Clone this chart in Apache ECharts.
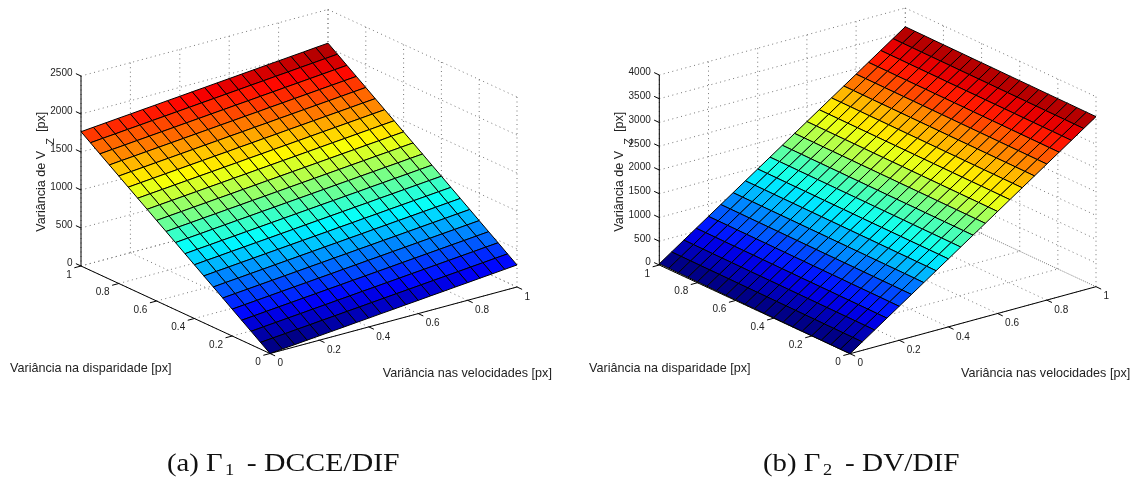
<!DOCTYPE html>
<html><head><meta charset="utf-8">
<style>html,body{margin:0;padding:0;background:#fff}#c{width:1134px;height:482px}</style>
<script src="https://cdn.jsdelivr.net/npm/echarts@6/dist/echarts.min.js"></script>
</head><body><div id="c"></div>
<script>
// ---- data ----
const velocityGrid = [0,0.05,0.1,0.15,0.2,0.25,0.3,0.35,0.4,0.45,0.5,0.55,0.6,0.65,0.7,0.75,0.8,0.85,0.9,0.95,1];
const disparityGrid = [0,0.05,0.1,0.15,0.2,0.25,0.3,0.35,0.4,0.45,0.5,0.55,0.6,0.65,0.7,0.75,0.8,0.85,0.9,0.95,1];
const unitTicks = [0,0.2,0.4,0.6,0.8,1];
const zTicksA = [0,500,1000,1500,2000,2500];
const zTicksB = [0,500,1000,1500,2000,2500,3000,3500,4000];
// rows: disparity index, columns: velocity index
const varianceA = [
[0,15,29,44,58,73,87,102,116,131,145,160,174,189,203,218,232,247,261,276,290],
[88,103,117,132,146,161,175,190,204,219,233,248,262,277,291,306,320,335,349,364,378],
[177,192,206,221,235,250,264,279,293,308,322,337,351,366,380,395,409,424,438,453,467],
[265,280,294,309,323,338,352,367,381,396,410,425,439,454,468,483,497,512,526,541,555],
[353,368,382,397,411,426,440,455,469,484,498,513,527,542,556,571,585,600,614,629,643],
[442,457,471,486,500,515,529,544,558,573,587,602,616,631,645,660,674,689,703,718,732],
[530,545,559,574,588,603,617,632,646,661,675,690,704,719,733,748,762,777,791,806,820],
[618,633,647,662,676,691,705,720,734,749,763,778,792,807,821,836,850,865,879,894,908],
[707,722,736,751,765,780,794,809,823,838,852,867,881,896,910,925,939,954,968,983,997],
[795,810,824,839,853,868,882,897,911,926,940,955,969,984,998,1013,1027,1042,1056,1071,1085],
[884,899,913,928,942,957,971,986,1000,1015,1029,1044,1058,1073,1087,1102,1116,1131,1145,1160,1174],
[972,987,1001,1016,1030,1045,1059,1074,1088,1103,1117,1132,1146,1161,1175,1190,1204,1219,1233,1248,1262],
[1060,1075,1089,1104,1118,1133,1147,1162,1176,1191,1205,1220,1234,1249,1263,1278,1292,1307,1321,1336,1350],
[1149,1164,1178,1193,1207,1222,1236,1251,1265,1280,1294,1309,1323,1338,1352,1367,1381,1396,1410,1425,1439],
[1237,1252,1266,1281,1295,1310,1324,1339,1353,1368,1382,1397,1411,1426,1440,1455,1469,1484,1498,1513,1527],
[1325,1340,1354,1369,1383,1398,1412,1427,1441,1456,1470,1485,1499,1514,1528,1543,1557,1572,1586,1601,1615],
[1414,1429,1443,1458,1472,1487,1501,1516,1530,1545,1559,1574,1588,1603,1617,1632,1646,1661,1675,1690,1704],
[1502,1517,1531,1546,1560,1575,1589,1604,1618,1633,1647,1662,1676,1691,1705,1720,1734,1749,1763,1778,1792],
[1590,1605,1619,1634,1648,1663,1677,1692,1706,1721,1735,1750,1764,1779,1793,1808,1822,1837,1851,1866,1880],
[1679,1694,1708,1723,1737,1752,1766,1781,1795,1810,1824,1839,1853,1868,1882,1897,1911,1926,1940,1955,1969],
[1767,1782,1796,1811,1825,1840,1854,1869,1883,1898,1912,1927,1941,1956,1970,1985,1999,2014,2028,2043,2057]
];
const varianceB = [
[0,179,358,537,716,895,1074,1253,1432,1611,1790,1969,2148,2327,2506,2685,2864,3043,3222,3401,3580],
[1,180,359,538,717,896,1075,1254,1433,1612,1791,1970,2149,2328,2507,2686,2865,3044,3223,3402,3581],
[3,182,361,540,719,898,1077,1256,1435,1614,1793,1972,2151,2330,2509,2688,2867,3046,3225,3404,3583],
[4,183,362,541,720,899,1078,1257,1436,1615,1794,1973,2152,2331,2510,2689,2868,3047,3226,3405,3584],
[5,184,363,542,721,900,1079,1258,1437,1616,1795,1974,2153,2332,2511,2690,2869,3048,3227,3406,3585],
[6,185,364,543,722,901,1080,1259,1438,1617,1796,1975,2154,2333,2512,2691,2870,3049,3228,3407,3586],
[8,187,366,545,724,903,1082,1261,1440,1619,1798,1977,2156,2335,2514,2693,2872,3051,3230,3409,3588],
[9,188,367,546,725,904,1083,1262,1441,1620,1799,1978,2157,2336,2515,2694,2873,3052,3231,3410,3589],
[10,189,368,547,726,905,1084,1263,1442,1621,1800,1979,2158,2337,2516,2695,2874,3053,3232,3411,3590],
[11,190,369,548,727,906,1085,1264,1443,1622,1801,1980,2159,2338,2517,2696,2875,3054,3233,3412,3591],
[13,192,371,550,729,908,1087,1266,1445,1624,1803,1982,2161,2340,2519,2698,2877,3056,3235,3414,3593],
[14,193,372,551,730,909,1088,1267,1446,1625,1804,1983,2162,2341,2520,2699,2878,3057,3236,3415,3594],
[15,194,373,552,731,910,1089,1268,1447,1626,1805,1984,2163,2342,2521,2700,2879,3058,3237,3416,3595],
[16,195,374,553,732,911,1090,1269,1448,1627,1806,1985,2164,2343,2522,2701,2880,3059,3238,3417,3596],
[18,197,376,555,734,913,1092,1271,1450,1629,1808,1987,2166,2345,2524,2703,2882,3061,3240,3419,3598],
[19,198,377,556,735,914,1093,1272,1451,1630,1809,1988,2167,2346,2525,2704,2883,3062,3241,3420,3599],
[20,199,378,557,736,915,1094,1273,1452,1631,1810,1989,2168,2347,2526,2705,2884,3063,3242,3421,3600],
[21,200,379,558,737,916,1095,1274,1453,1632,1811,1990,2169,2348,2527,2706,2885,3064,3243,3422,3601],
[23,202,381,560,739,918,1097,1276,1455,1634,1813,1992,2171,2350,2529,2708,2887,3066,3245,3424,3603],
[24,203,382,561,740,919,1098,1277,1456,1635,1814,1993,2172,2351,2530,2709,2888,3067,3246,3425,3604],
[25,204,383,562,741,920,1099,1278,1457,1636,1815,1994,2173,2352,2531,2710,2889,3068,3247,3426,3605]
];
const titleDisparity = 'Variância na disparidade [px]';
const titleVelocity = 'Variância nas velocidades [px]';

const views = [
 {front:[270,353.5], velD:[247,66.5], dispD:[-189,87.5], zUp:190, zMax:2500, z:varianceA, zTicks:zTicksA},
 {front:[850,353.7], velD:[246,67], dispD:[-190.7,88.7], zUp:190, zMax:4000, z:varianceB, zTicks:zTicksB}
];
const AXIS_FONT = '"Liberation Sans", Arial, sans-serif';
function jet(t){
  const idx=Math.min(63,Math.max(0,Math.floor(t*64)));
  const s=(idx+0.5)/64, c=v=>Math.round(255*Math.max(0,Math.min(1,v)));
  return `rgb(${c(1.5-Math.abs(4*s-3))},${c(1.5-Math.abs(4*s-2))},${c(1.5-Math.abs(4*s-1))})`;
}
function makeSeries(k){
  const v=views[k];
  const P=(vel,disp,z)=>[vel*v.velD[0]+disp*v.dispD[0], vel*v.velD[1]+disp*v.dispD[1]+z/v.zMax*v.zUp];
  const common={type:'custom',xAxisIndex:k,yAxisIndex:k,silent:true,animation:false,clip:false};
  const zm=v.zMax, zs=v.zTicks;
  const dotted=[];
  unitTicks.forEach(t=>{
    dotted.push([[t,0,0],[t,1,0]],[[t,1,0],[t,1,zm]]);
    dotted.push([[0,t,0],[1,t,0]],[[1,t,0],[1,t,zm]]);
  });
  zs.forEach(t=>{dotted.push([[0,1,t],[1,1,t]],[[1,1,t],[1,0,t]]);});
  const solid=[[[0,0,0],[1,0,0]],[[0,0,0],[0,1,0]],[[0,1,0],[0,1,zm]]];
  const tk=0.027;
  unitTicks.forEach(t=>{
    solid.push([[t,0,0],[t,-tk,0]]);
    solid.push([[0,t,0],[-tk,t,0]]);
  });
  zs.forEach(t=>solid.push([[0,1,t],[0,1+tk,t]]));
  const lineSeries=(list,style,z)=>Object.assign({},common,{z,data:list.map((_,i)=>[i,0]),
    renderItem(params,api){
      const s=list[params.dataIndex];
      const a=api.coord(P(...s[0])), b=api.coord(P(...s[1]));
      return {type:'line',shape:{x1:a[0],y1:a[1],x2:b[0],y2:b[1]},style};
    }});
  const cells=[];
  for(let i=disparityGrid.length-2;i>=0;i--)for(let j=velocityGrid.length-2;j>=0;j--)cells.push([j,i]);
  const zmin=Math.min(...v.z.map(r=>Math.min(...r))), zmax=Math.max(...v.z.map(r=>Math.max(...r)));
  const cellPts=(api,i,j)=>{
    const c=(ii,jj)=>api.coord(P(velocityGrid[jj],disparityGrid[ii],v.z[ii][jj]));
    return [c(i,j),c(i,j+1),c(i+1,j+1),c(i+1,j)];
  };
  const surface=Object.assign({},common,{z:5,data:cells,
    renderItem(params,api){
      const [j,i]=cells[params.dataIndex];
      return {type:'polygon',shape:{points:cellPts(api,i,j)},
        style:{fill:jet((v.z[i][j]-zmin)/(zmax-zmin)),stroke:'#000',lineWidth:1}};
    }});
  const labels=[];
  zs.forEach(t=>labels.push({p:[0,1,t],text:String(t),dx:-8.5,dy:-2.4,align:'right'}));
  unitTicks.forEach(t=>{
    labels.push({p:[0,t,0],text:String(t),dx:-9.2,dy:9,align:'right'});
    labels.push({p:[t,0,0],text:String(t),dx:7.5,dy:10,align:'left'});
  });
  const labelSeries=Object.assign({},common,{z:6,data:labels.map((_,i)=>[i,0]),
    renderItem(params,api){
      const l=labels[params.dataIndex], a=api.coord(P(...l.p));
      return {type:'text',x:a[0]+l.dx,y:a[1]+l.dy,style:{text:l.text,font:'10px '+AXIS_FONT,fill:'#222',align:l.align,verticalAlign:'middle'}};
    }});
  return [
    lineSeries(dotted,{stroke:'#777',lineWidth:1,lineDash:[1,3.5]},1),
    lineSeries(solid,{stroke:'#000',lineWidth:1},2),
    surface,labelSeries
  ];
}
function gridOf(v){
  const minU=v.dispD[0], maxU=v.velD[0], maxW=v.velD[1]+v.dispD[1]+v.zUp;
  return {left:v.front[0]+minU,top:v.front[1]-maxW,width:maxU-minU,height:maxW,show:false};
}
function axisPair(v,k){
  return [{type:'value',gridIndex:k,min:v.dispD[0],max:v.velD[0],show:false},
          {type:'value',gridIndex:k,min:0,max:v.velD[1]+v.dispD[1]+v.zUp,show:false}];
}
const pairs=views.map(axisPair);
const txt=(x,y,text,font,extra)=>Object.assign({type:'text',x,y,silent:true,z:10,
  style:{text,font,fill:'#222',align:'left',verticalAlign:'middle'}},extra||{});
const F12='12.6px '+AXIS_FONT, F11='11px '+AXIS_FONT;
const SER='"Liberation Serif", "DejaVu Serif", serif';
const cap=(x,y,text,size,sx)=>({type:'text',x,y,scaleX:sx||1,silent:true,z:10,style:{text,font:size+'px '+SER,fill:'#111',align:'left',verticalAlign:'middle'}});
const rot=Math.PI/2;
const zTitle=(x)=>[
  txt(x,231.7,'Variância de V',F12,{rotation:rot}),
  txt(x+8.5,141.5,'Z',F11,{rotation:rot,style:{text:'Z',font:F11,fill:'#222',align:'center',verticalAlign:'middle'}}),
  txt(x,111.7,'[px]',F12,{rotation:rot,style:{text:'[px]',font:F12,fill:'#222',align:'right',verticalAlign:'middle'}})
];
const option={
  backgroundColor:'#fff',animation:false,
  grid:views.map(gridOf),
  xAxis:pairs.map(p=>p[0]),yAxis:pairs.map(p=>p[1]),
  series:[...makeSeries(0),...makeSeries(1)],
  graphic:{elements:[
    txt(10,369,titleDisparity,F12),
    txt(382.7,374,titleVelocity,F12),
    txt(589,369,titleDisparity,F12),
    txt(961,374,titleVelocity,F12),
    ...zTitle(42),...zTitle(620),
    cap(167,464,'(a) Γ',25,1.15),cap(225,471,'1',16,1.15),cap(246.7,464,'- DCCE/DIF',25,1.19),
    cap(763,464,'(b) Γ',25,1.15),cap(823,471,'2',16,1.15),cap(845,464,'- DV/DIF',25,1.17)
  ]}
};
echarts.init(document.getElementById('c'),null,{renderer:'canvas'}).setOption(option);
</script></body></html>
